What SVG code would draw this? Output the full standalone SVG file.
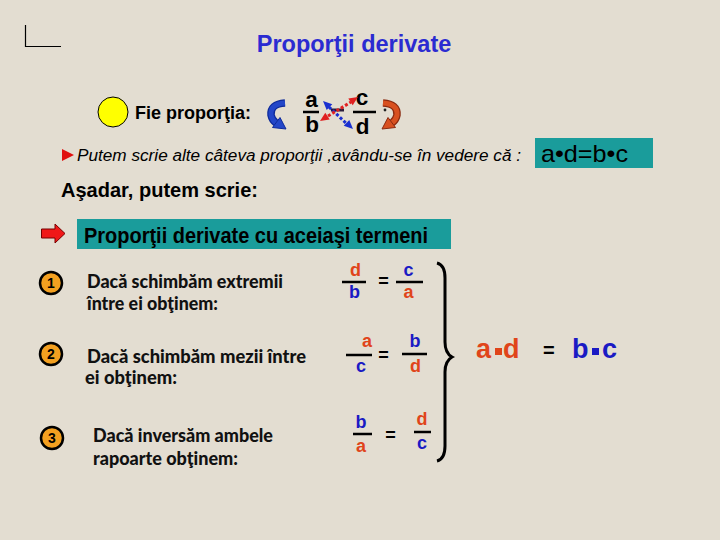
<svg xmlns="http://www.w3.org/2000/svg" width="720" height="540" viewBox="0 0 720 540">
<style>
.ar{font-family:"Liberation Sans",Arial,sans-serif}
.b{font-weight:bold}
.hand{font-family:Lato,"Open Sans",sans-serif;font-weight:900;font-size:18px;fill:#111}
.fr{font-family:"Liberation Sans",Arial,sans-serif;font-weight:bold;font-size:18px;text-anchor:middle}
.or{fill:#e0441a}
.bl{fill:#1a1ac4}
.fl{stroke:#000;stroke-width:2.5}
.teal{fill:#1a9c9b}
.num{fill:#f3a020;stroke:#000;stroke-width:2.5}
.numt{font-family:"Liberation Sans",Arial,sans-serif;font-weight:bold;font-size:14px;text-anchor:middle;fill:#000}
</style>
<rect width="720" height="540" fill="#e3ddd1"/>
<g id="corner" stroke="#000" stroke-width="1.2" fill="none">
<path d="M25.5 25 V46.5 H61"/>
</g>
<g id="title">
<text class="ar b" x="354" y="52" font-size="23.5" text-anchor="middle" fill="#2b2bd1">Proporţii derivate</text>
</g>
<g id="fie">
<circle cx="113" cy="112" r="15" fill="#ffff00" stroke="#000" stroke-width="1"/>
<text class="ar b" x="135" y="119" font-size="17.5" textLength="116" lengthAdjust="spacingAndGlyphs" fill="#000">Fie proporţia:</text>
</g>
<g id="proportion">
<line x1="331" y1="110" x2="344" y2="110" stroke="#2a1c3a" stroke-width="3"/>
<text class="ar b" x="311.5" y="107" font-size="22.5" text-anchor="middle">a</text>
<text class="ar b" x="312" y="132" font-size="22.5" text-anchor="middle">b</text>
<line x1="303" y1="112" x2="319" y2="112" stroke="#000" stroke-width="2.5"/>
<text class="ar b" x="362" y="105" font-size="22.5" text-anchor="middle">c</text>
<text class="ar b" x="362.5" y="134" font-size="22.5" text-anchor="middle">d</text>
<line x1="353" y1="112" x2="376" y2="112" stroke="#000" stroke-width="2.5"/>
<circle cx="385" cy="110" r="1.4" fill="#222"/>
</g>
<g id="connectors">
<line x1="329" y1="107" x2="347" y2="124" stroke="#1a2fd0" stroke-width="3" stroke-dasharray="3 2"/>
<polygon points="323,101 326.7,110.1 332.3,104.3" fill="#1a2fd0"/>
<polygon points="353,129 343.7,125.7 349.3,119.9" fill="#1a2fd0"/>
<line x1="328" y1="116" x2="351" y2="102" stroke="#e02020" stroke-width="3" stroke-dasharray="3 2"/>
<polygon points="320,121 329.7,119.4 325.3,112.8" fill="#e02020"/>
<polygon points="358,97 352.7,105.2 348.3,98.6" fill="#e02020"/>
<path d="M285 103 Q270 104 271 115 Q272 120 276 123" fill="none" stroke="#0e2a9a" stroke-width="7.5"/>
<path d="M285 103 Q270 104 271 115 Q272 120 276 123" fill="none" stroke="#2346c8" stroke-width="5"/>
<polygon points="286,129 272.5,127.5 280,117.5" fill="#2346c8" stroke="#0e2a9a" stroke-width="1"/>
<path d="M383 103 Q398 104 397 115 Q396 120 392 123" fill="none" stroke="#8a2a10" stroke-width="7.5"/>
<path d="M383 103 Q398 104 397 115 Q396 120 392 123" fill="none" stroke="#d85020" stroke-width="5"/>
<polygon points="382,129 395.5,127.5 388,117.5" fill="#d85020" stroke="#8a2a10" stroke-width="1"/>
<path d="M437 263 Q445 265 445 278 L445 342 Q445 353 452 357 Q445 361 445 372 L445 446 Q445 459 437 461" fill="none" stroke="#000" stroke-width="3"/>
</g>
<g id="putem">
<polygon points="62,149 74,155 62,161" fill="#e01010"/>
<text class="ar" x="77" y="161" font-size="16" font-style="italic" textLength="444" lengthAdjust="spacingAndGlyphs" fill="#000">Putem scrie alte câteva proporţii ,avându-se în vedere că :</text>
</g>
<g id="box-product">
<rect class="teal" x="535" y="138" width="118" height="30"/>
<text class="ar" x="541" y="162" font-size="24" textLength="87" lengthAdjust="spacingAndGlyphs" fill="#000">a•d=b•c</text>
</g>
<g id="asadar">
<text class="ar b" x="61" y="197" font-size="21" textLength="197" lengthAdjust="spacingAndGlyphs" fill="#000">Aşadar, putem scrie:</text>
</g>
<g id="header">
<path d="M41.5 229 H55 V224 L65 233.5 L55 243 V238 H41.5 Z" fill="#f01818" stroke="#700" stroke-width="1"/>
<rect class="teal" x="77" y="219" width="374" height="30"/>
<text class="ar b" x="84" y="243" font-size="21.5" textLength="344" lengthAdjust="spacingAndGlyphs" fill="#000">Proporţii derivate cu aceiaşi termeni</text>
</g>
<g id="case1">
<circle class="num" cx="51" cy="283" r="11"/>
<text class="numt" x="51" y="288">1</text>
<text class="hand" x="87" y="288" textLength="196" lengthAdjust="spacingAndGlyphs">Dacă schimbăm extremii</text>
<text class="hand" x="87" y="310" textLength="131" lengthAdjust="spacingAndGlyphs">între ei obţinem:</text>
<text class="fr or" x="355.5" y="276">d</text>
<text class="fr bl" x="354.5" y="298">b</text>
<line class="fl" x1="342" y1="282" x2="366" y2="282"/>
<text class="fr" x="383.5" y="287">=</text>
<text class="fr bl" x="408.5" y="276">c</text>
<text class="fr or" x="408.5" y="298">a</text>
<line class="fl" x1="396" y1="282" x2="423" y2="282"/>
</g>
<g id="case2">
<circle class="num" cx="51" cy="354" r="11"/>
<text class="numt" x="51" y="359">2</text>
<text class="hand" x="87" y="363" textLength="219" lengthAdjust="spacingAndGlyphs">Dacă schimbăm  mezii între</text>
<text class="hand" x="85" y="384" textLength="92" lengthAdjust="spacingAndGlyphs">ei obţinem:</text>
<text class="fr or" x="367" y="347">a</text>
<text class="fr bl" x="361" y="372">c</text>
<line class="fl" x1="346" y1="355" x2="372" y2="355"/>
<text class="fr" x="383.5" y="361">=</text>
<text class="fr bl" x="415" y="347">b</text>
<text class="fr or" x="415.5" y="372">d</text>
<line class="fl" x1="402" y1="354" x2="427" y2="354"/>
</g>
<g id="case3">
<circle class="num" cx="52" cy="438" r="11"/>
<text class="numt" x="52" y="443">3</text>
<text class="hand" x="93" y="442" textLength="180" lengthAdjust="spacingAndGlyphs">Dacă inversăm ambele</text>
<text class="hand" x="93" y="465" textLength="145" lengthAdjust="spacingAndGlyphs">rapoarte obţinem:</text>
<text class="fr bl" x="361" y="428">b</text>
<text class="fr or" x="361" y="452">a</text>
<line class="fl" x1="353" y1="434" x2="372" y2="434"/>
<text class="fr" x="390.5" y="441">=</text>
<text class="fr or" x="422" y="425">d</text>
<text class="fr bl" x="422" y="449">c</text>
<line class="fl" x1="414" y1="432" x2="431" y2="432"/>
</g>
<g id="result">
<text class="ar b or" x="476" y="358" font-size="27">a</text>
<rect class="or" x="495" y="348" width="7" height="7"/>
<text class="ar b or" x="503" y="358" font-size="27">d</text>
<text class="ar b" x="543" y="357" font-size="20" fill="#000">=</text>
<text class="ar b bl" x="572" y="358" font-size="27">b</text>
<rect class="bl" x="592" y="348" width="7" height="7"/>
<text class="ar b bl" x="602" y="358" font-size="27">c</text>
</g>
</svg>
